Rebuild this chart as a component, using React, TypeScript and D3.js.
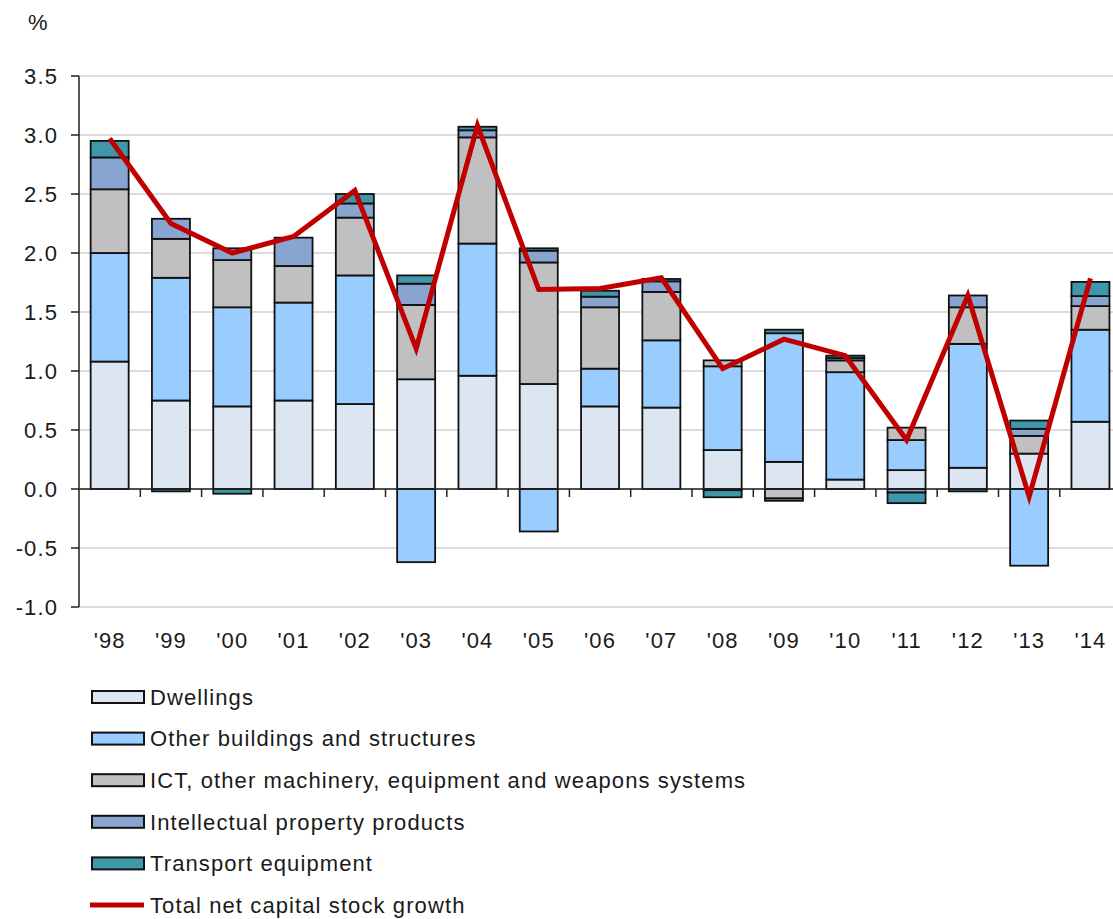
import React from "react";
import * as d3 from "d3";

const years = ["'98", "'99", "'00", "'01", "'02", "'03", "'04", "'05", "'06", "'07", "'08", "'09", "'10", "'11", "'12", "'13", "'14"];
const dwellings = [1.08, 0.75, 0.70, 0.75, 0.72, 0.93, 0.96, 0.89, 0.70, 0.69, 0.33, 0.23, 0.08, 0.16, 0.18, 0.30, 0.57];
const otherBuildings = [0.92, 1.04, 0.84, 0.83, 1.09, -0.62, 1.12, -0.36, 0.32, 0.57, 0.71, 1.09, 0.91, 0.255, 1.05, -0.65, 0.78];
const ictMachinery = [0.54, 0.33, 0.40, 0.31, 0.49, 0.63, 0.90, 1.03, 0.52, 0.41, 0.05, -0.08, 0.10, 0.105, 0.31, 0.15, 0.20];
const intellectual = [0.27, 0.17, 0.10, 0.24, 0.12, 0.18, 0.06, 0.10, 0.09, 0.09, -0.01, -0.02, 0.02, -0.03, 0.10, 0.06, 0.085];
const transport = [0.14, -0.02, -0.04, 0.0, 0.08, 0.07, 0.03, 0.02, 0.05, 0.02, -0.06, 0.03, 0.02, -0.09, -0.02, 0.07, 0.12];
const totalGrowth = [2.97, 2.25, 2.0, 2.14, 2.53, 1.19, 3.08, 1.69, 1.70, 1.79, 1.02, 1.27, 1.13, 0.415, 1.64, -0.065, 1.785];
const yTicks = [3.5, 3.0, 2.5, 2.0, 1.5, 1.0, 0.5, 0.0, -0.5, -1.0];

const seriesNames = [
  "Dwellings",
  "Other buildings and structures",
  "ICT, other machinery, equipment and weapons systems",
  "Intellectual property products",
  "Transport equipment",
];
const seriesValues = [dwellings, otherBuildings, ictMachinery, intellectual, transport];
const seriesColors = ["#dce6f2", "#99ccff", "#c0c0c0", "#87a5cf", "#3f98a9"];
const lineName = "Total net capital stock growth";
const lineColor = "#c00000";

export default function App() {
  const W = 1113;
  const H = 919;
  const x0 = 79;
  const step = 61.3;
  const x = d3
    .scaleBand<string>()
    .domain(years)
    .range([x0, x0 + step * years.length])
    .paddingInner(0.38)
    .paddingOuter(0.19);
  const y = d3.scaleLinear().domain([-1, 3.5]).range([607, 76]);

  const rows = years.map((yr, i) => {
    const r: any = { year: yr };
    seriesNames.forEach((n, k) => (r[n] = seriesValues[k][i]));
    return r;
  });
  const stacked = d3.stack<any>().keys(seriesNames).offset(d3.stackOffsetDiverging)(rows);

  const line = d3
    .line<number>()
    .x((_, i) => (x(years[i]) as number) + x.bandwidth() / 2)
    .y((v) => y(v));

  const font = "Arial, 'Liberation Sans', sans-serif";
  const textColor = "#1a1a1a";
  const fs = 22;
  const ls = 1.1;

  return (
    <svg width={W} height={H} style={{ position: "absolute", left: 0, top: 0, display: "block" }} fontFamily={font}>
      <rect x={0} y={0} width={W} height={H} fill="#fff" />
      {yTicks.map((t) => (
        <line key={"g" + t} x1={x0} x2={W} y1={y(t)} y2={y(t)} stroke="#d0d0d0" strokeWidth={1.5} />
      ))}
      {stacked.map((s, k) => (
        <g key={s.key}>
          {s.map((d, i) => {
            const top = y(Math.max(d[0], d[1]));
            const bot = y(Math.min(d[0], d[1]));
            if (Math.abs(d[1] - d[0]) < 1e-9) return null;
            return (
              <rect
                key={i}
                x={x(years[i])}
                y={top}
                width={x.bandwidth()}
                height={Math.max(bot - top, 0.5)}
                fill={seriesColors[k]}
                stroke="#111"
                strokeWidth={1.8}
              />
            );
          })}
        </g>
      ))}
      <line x1={x0} x2={x0} y1={y(3.5)} y2={y(-1)} stroke="#222" strokeWidth={1.5} />
      {yTicks.map((t) => (
        <g key={"t" + t}>
          <line x1={x0 - 8} x2={x0} y1={y(t)} y2={y(t)} stroke="#222" strokeWidth={1.5} />
          <text x={58} y={y(t)} dy="0.35em" textAnchor="end" fontSize={fs} letterSpacing={ls} fill={textColor}>
            {t.toFixed(1)}
          </text>
        </g>
      ))}
      <line x1={x0} x2={W} y1={y(0)} y2={y(0)} stroke="#222" strokeWidth={1.5} />
      {years.map((yr, i) => (
        <g key={"x" + yr}>
          {i > 0 && (
            <line x1={x0 + step * i} x2={x0 + step * i} y1={y(0)} y2={y(0) + 8} stroke="#222" strokeWidth={1.5} />
          )}
          <text x={(x(yr) as number) + x.bandwidth() / 2} y={648} textAnchor="middle" fontSize={fs} letterSpacing={ls} fill={textColor}>
            {yr}
          </text>
        </g>
      ))}
      <text x={28} y={30} fontSize={fs} letterSpacing={ls} fill={textColor}>
        %
      </text>
      <path d={line(totalGrowth) || ""} fill="none" stroke={lineColor} strokeWidth={5} strokeLinejoin="miter" />
      {seriesNames.map((n, k) => {
        const cy = 697 + k * 41.6;
        return (
          <g key={"l" + n}>
            <rect x={92} y={cy - 6} width={52} height={12} fill={seriesColors[k]} stroke="#111" strokeWidth={2} />
            <text x={150} y={cy} dy="0.35em" fontSize={fs} letterSpacing={ls} fill={textColor}>
              {n}
            </text>
          </g>
        );
      })}
      <g>
        <line x1={90} x2={144} y1={697 + 5 * 41.6} y2={697 + 5 * 41.6} stroke={lineColor} strokeWidth={5} />
        <text x={150} y={697 + 5 * 41.6} dy="0.35em" fontSize={fs} letterSpacing={ls} fill={textColor}>
          {lineName}
        </text>
      </g>
    </svg>
  );
}
